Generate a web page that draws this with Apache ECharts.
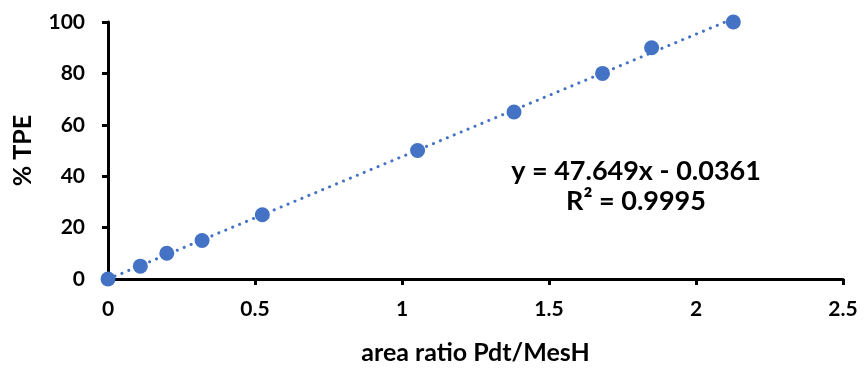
<!DOCTYPE html>
<html>
<head>
<meta charset="utf-8">
<script src="https://cdn.jsdelivr.net/npm/echarts@6/dist/echarts.min.js"></script>
<style>
  html, body { margin: 0; padding: 0; background: #fff; }
  #chart { width: 865px; height: 370px; }
</style>
</head>
<body>
<div id="chart"></div>
<script>
// Calibration points: area ratio Pdt/MesH vs % TPE
const areaRatio = [0, 0.11, 0.2, 0.32, 0.525, 1.053, 1.381, 1.682, 1.849, 2.127];
const tpePercent = [0, 5, 10, 15, 25, 50, 65, 80, 90, 100];

// Linear fit reported for the calibration
const fitSlope = 47.649;
const fitIntercept = -0.0361;
const fitR2 = 0.9995;

const xTicks = { min: 0, max: 2.5, interval: 0.5 };
const yTicks = { min: 0, max: 100, interval: 20 };

const points = areaRatio.map((x, i) => [x, tpePercent[i]]);
const xFitEnd = Math.max(...areaRatio);
const fitLine = [
  [0, fitSlope * 0 + fitIntercept],
  [xFitEnd, fitSlope * xFitEnd + fitIntercept]
];

const FONT = 'Lato, "Open Sans", sans-serif';
const blue = '#4472C4';

const chart = echarts.init(document.getElementById('chart'), null, { renderer: 'canvas' });
chart.setOption({
  animation: false,
  backgroundColor: '#fff',
  grid: { left: 108, right: 22, top: 22, bottom: 88, containLabel: false },
  xAxis: {
    type: 'value',
    min: xTicks.min, max: xTicks.max, interval: xTicks.interval,
    name: 'area ratio Pdt/MesH',
    nameLocation: 'middle',
    nameGap: 61,
    nameTextStyle: { fontFamily: FONT, fontWeight: 'bold', fontSize: 25, color: '#000' },
    axisLine: { show: true, onZero: false, lineStyle: { color: '#000', width: 3 } },
    axisTick: { show: true, inside: false, length: 6, lineStyle: { color: '#000', width: 3 } },
    axisLabel: {
      margin: 20, fontFamily: FONT, fontWeight: 'bold', fontSize: 21, color: '#000',
      formatter: v => String(+v.toFixed(2))
    },
    splitLine: { show: false }
  },
  yAxis: {
    type: 'value',
    min: yTicks.min, max: yTicks.max, interval: yTicks.interval,
    name: '% TPE',
    nameLocation: 'middle',
    nameGap: 73,
    nameRotate: 90,
    nameTextStyle: { fontFamily: FONT, fontWeight: 'bold', fontSize: 25, color: '#000' },
    axisLine: { show: true, onZero: false, lineStyle: { color: '#000', width: 3 } },
    axisTick: { show: true, inside: false, length: 6, lineStyle: { color: '#000', width: 3 } },
    axisLabel: { margin: 23, fontFamily: FONT, fontWeight: 'bold', fontSize: 21, color: '#000' },
    splitLine: { show: false }
  },
  series: [
    {
      type: 'line',
      data: fitLine,
      symbol: 'none',
      silent: true,
      lineStyle: { color: blue, width: 3, type: [0.1, 7.4], cap: 'round' },
      z: 2
    },
    {
      type: 'scatter',
      data: points,
      symbol: 'circle',
      symbolSize: 15,
      itemStyle: { color: blue, opacity: 1 },
      z: 3
    }
  ],
  graphic: [
    {
      type: 'text',
      x: 636, y: 171,
      style: {
        text: 'y = ' + fitSlope + 'x - ' + Math.abs(fitIntercept),
        fontFamily: FONT, fontSize: 27, fontWeight: 'bold',
        fill: '#000', align: 'center', verticalAlign: 'middle'
      }
    },
    {
      type: 'text',
      x: 636, y: 201,
      style: {
        text: 'R² = ' + fitR2,
        fontFamily: FONT, fontSize: 27, fontWeight: 'bold',
        fill: '#000', align: 'center', verticalAlign: 'middle'
      }
    }
  ]
});
</script>
</body>
</html>
